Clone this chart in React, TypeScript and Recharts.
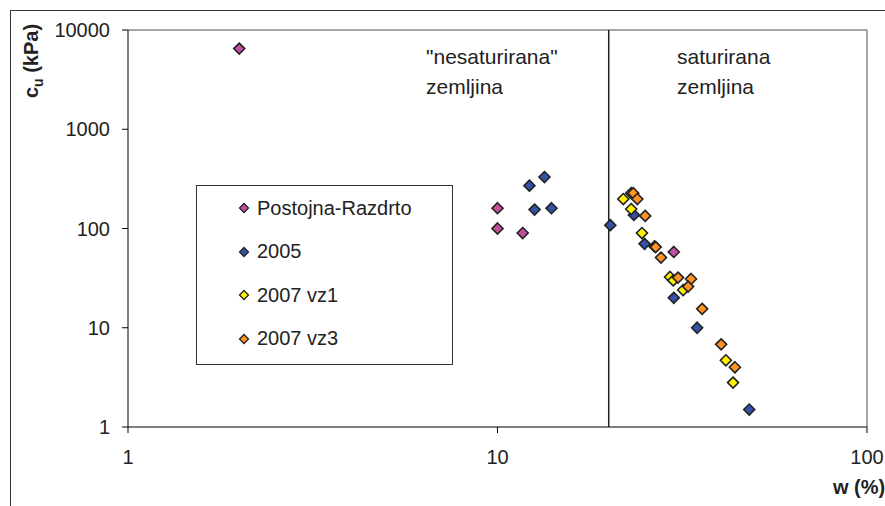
import { ScatterChart, Scatter, XAxis, YAxis, ReferenceLine } from 'recharts';

// w (%) and c_u (kPa)
const postojnaW = [2, 10, 10, 11.7, 30];
const postojnaCu = [6500, 160, 100, 90, 58];

const y2005W = [12.2, 13.4, 12.6, 14, 20.2, 23.4, 25, 30, 34.7, 48];
const y2005Cu = [270, 330, 155, 160, 108, 137, 70, 20, 10, 1.5];

const vz1W = [21.9, 23, 24.6, 29.3, 29.9, 31.8, 41.5, 43.4];
const vz1Cu = [198, 157, 90, 32.5, 30, 24, 4.7, 2.8];

const vz3W = [23, 23.3, 23.9, 25.1, 26.6, 26.8, 27.7, 30.8, 33.4, 32.8, 35.8, 40.3, 43.9];
const vz3Cu = [227, 227, 198, 134, 66, 65, 51, 32, 31, 26, 15.5, 6.8, 4];

const xTicks = [1, 10, 100];
const yTicks = [1, 10, 100, 1000, 10000];
const boundaryW = 20;

const FONT = '"Liberation Sans", Arial, sans-serif';

const toPoints = (w: number[], cu: number[]) => w.map((x, i) => ({ w: x, cu: cu[i] }));

const series = [
  { name: 'Postojna-Razdrto', color: '#C2509E', data: toPoints(postojnaW, postojnaCu) },
  { name: '2005', color: '#3352A6', data: toPoints(y2005W, y2005Cu) },
  { name: '2007 vz1', color: '#FFF200', data: toPoints(vz1W, vz1Cu) },
  { name: '2007 vz3', color: '#FF9324', data: toPoints(vz3W, vz3Cu) },
];

const diamond = (color: string, r: number) => (props: any) => {
  const { cx, cy } = props;
  if (cx == null || cy == null) return <g />;
  return (
    <path
      d={`M${cx},${cy - r}L${cx + r},${cy}L${cx},${cy + r}L${cx - r},${cy}Z`}
      fill={color}
      stroke="#222"
      strokeWidth={1.6}
    />
  );
};

export default function App() {
  return (
    <div
      style={{
        position: 'absolute',
        left: 0,
        top: 0,
        width: 885,
        height: 506,
        overflow: 'hidden',
        background: '#fff',
        fontFamily: FONT,
        color: '#222',
      }}
    >
      {/* outer chart frame, runs off the right/bottom edge */}
      <div
        style={{
          position: 'absolute',
          left: 10,
          top: 10,
          width: 1000,
          height: 1000,
          border: '1px solid #333',
        }}
      />
      <div style={{ position: 'absolute', left: 0, top: 0 }}>
        <ScatterChart width={885} height={506} margin={{ top: 30, right: 18, bottom: 39, left: 68 }}>
          <XAxis
            type="number"
            dataKey="w"
            scale="log"
            domain={[1, 100]}
            ticks={xTicks}
            allowDataOverflow
            height={40}
            stroke="#000"
            tickSize={6}
            tickMargin={17}
            tick={{ fill: '#222', fontSize: 20, fontFamily: FONT }}
          />
          <YAxis
            type="number"
            dataKey="cu"
            scale="log"
            domain={[1, 10000]}
            ticks={yTicks}
            allowDataOverflow
            width={60}
            stroke="#000"
            tickSize={6}
            tickMargin={12}
            tick={{ fill: '#222', fontSize: 20, fontFamily: FONT }}
          />
          <ReferenceLine y={10000} stroke="#888" strokeWidth={1.5} />
          <ReferenceLine x={100} stroke="#888" strokeWidth={1.5} />
          <ReferenceLine x={boundaryW} stroke="#222" strokeWidth={1.5} />
          {series.map((s) => (
            <Scatter
              key={s.name}
              name={s.name}
              data={s.data}
              fill={s.color}
              shape={diamond(s.color, 5.5)}
              isAnimationActive={false}
            />
          ))}
        </ScatterChart>
      </div>

      {/* region labels */}
      <div style={{ position: 'absolute', left: 426, top: 42, fontSize: 21, lineHeight: '30px' }}>
        "nesaturirana"
        <br />
        zemljina
      </div>
      <div style={{ position: 'absolute', left: 677, top: 42, fontSize: 21, lineHeight: '30px' }}>
        saturirana
        <br />
        zemljina
      </div>

      {/* axis titles */}
      <div
        style={{
          position: 'absolute',
          left: 33,
          top: 61,
          transform: 'translate(-50%, -50%) rotate(-90deg)',
          fontSize: 20,
          fontWeight: 'bold',
          whiteSpace: 'nowrap',
        }}
      >
        c<sub style={{ fontSize: 14 }}>u</sub> (kPa)
      </div>
      <div
        style={{
          position: 'absolute',
          left: 833,
          top: 476,
          fontSize: 20,
          fontWeight: 'bold',
          whiteSpace: 'nowrap',
        }}
      >
        w (%)
      </div>

      {/* legend */}
      <div
        style={{
          position: 'absolute',
          left: 196,
          top: 185,
          width: 255,
          height: 178,
          border: '1px solid #333',
          background: '#fff',
        }}
      >
        {series.map((s, i) => (
          <div
            key={s.name}
            style={{
              position: 'absolute',
              left: 40,
              top: 22 + i * 43.5 - 12,
              height: 24,
              display: 'flex',
              alignItems: 'center',
              fontSize: 20,
              whiteSpace: 'nowrap',
            }}
          >
            <svg width={14} height={14} style={{ marginRight: 6 }}>
              <path d="M7,2.5L11.5,7L7,11.5L2.5,7Z" fill={s.color} stroke="#222" strokeWidth={1.3} />
            </svg>
            {s.name}
          </div>
        ))}
      </div>
    </div>
  );
}
